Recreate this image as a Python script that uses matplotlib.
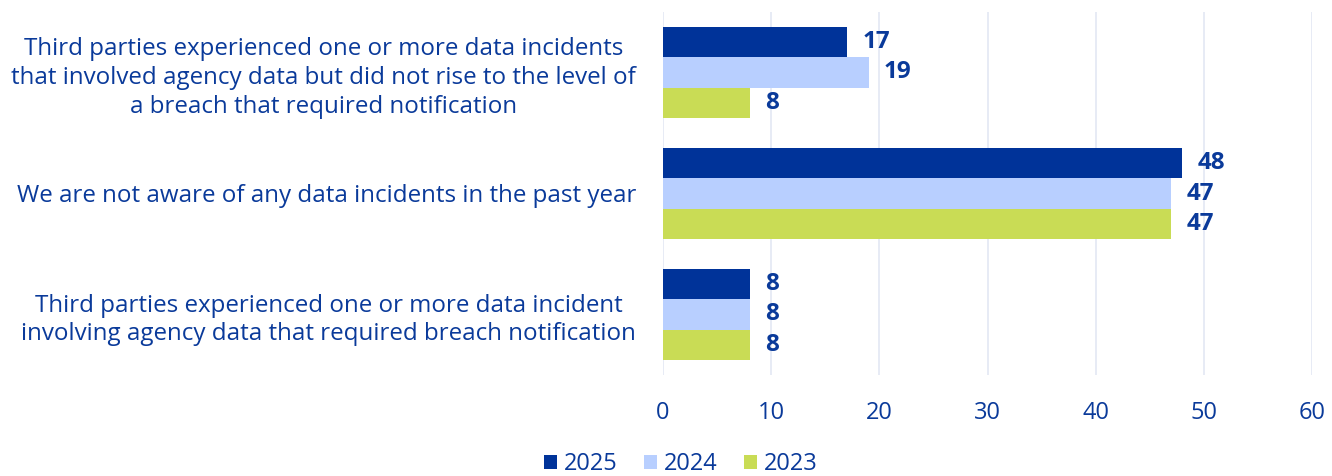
import matplotlib
matplotlib.use("Agg")
import matplotlib.pyplot as plt
import numpy as np

categories = [
    "Third parties experienced one or more data incidents\nthat involved agency data but did not rise to the level of\na breach that required notification",
    "We are not aware of any data incidents in the past year",
    "Third parties experienced one or more data incident\ninvolving agency data that required breach notification",
]
series_names = ["2025", "2024", "2023"]
values_2025 = [17, 48, 8]
values_2024 = [19, 47, 8]
values_2023 = [8, 47, 8]

colors = ["#003399", "#B8CFFF", "#C9DC55"]
text_color = "#0A3A9A"

plt.rcParams["font.family"] = ["Open Sans", "DejaVu Sans"]

fig = plt.figure(figsize=(13.32, 4.76), dpi=100)
ax = fig.add_axes([663 / 1332, 101 / 476, 649 / 1332, 363 / 476])

y = np.arange(len(categories))
h = 0.248
series = [values_2025, values_2024, values_2023]
for i, (name, vals, c) in enumerate(zip(series_names, series, colors)):
    pos = y + (i - 1) * h
    ax.barh(pos, vals, height=h, color=c, label=name, zorder=3)
    for p, v in zip(pos, vals):
        ax.annotate(str(v), (v, p), xytext=(11, 0), textcoords="offset points",
                    va="center", ha="left", fontsize=17.5, fontweight="bold",
                    color=text_color)

ax.set_xlim(0, 60)
ax.set_ylim(2.5, -0.5)
ax.set_xticks(np.arange(0, 61, 10))
ax.set_yticks(y)
ax.set_yticklabels(categories, multialignment="center", fontsize=17.4,
                   color=text_color, linespacing=1.27)
ax.tick_params(axis="y", length=0, pad=19.5)
ax.tick_params(axis="x", length=0, pad=19, labelsize=17, labelcolor=text_color)
ax.grid(axis="x", color="#E3E7F3", linewidth=1.2, zorder=0)
for s in ax.spines.values():
    s.set_visible(False)

leg = fig.legend(loc="lower center", bbox_to_anchor=(0.511, -0.045), ncol=3,
                 frameon=False, fontsize=17, handlelength=0.55, handleheight=0.55,
                 handletextpad=0.3, columnspacing=1.1)
for t in leg.get_texts():
    t.set_color(text_color)

fig.savefig("out.png", dpi=100)
